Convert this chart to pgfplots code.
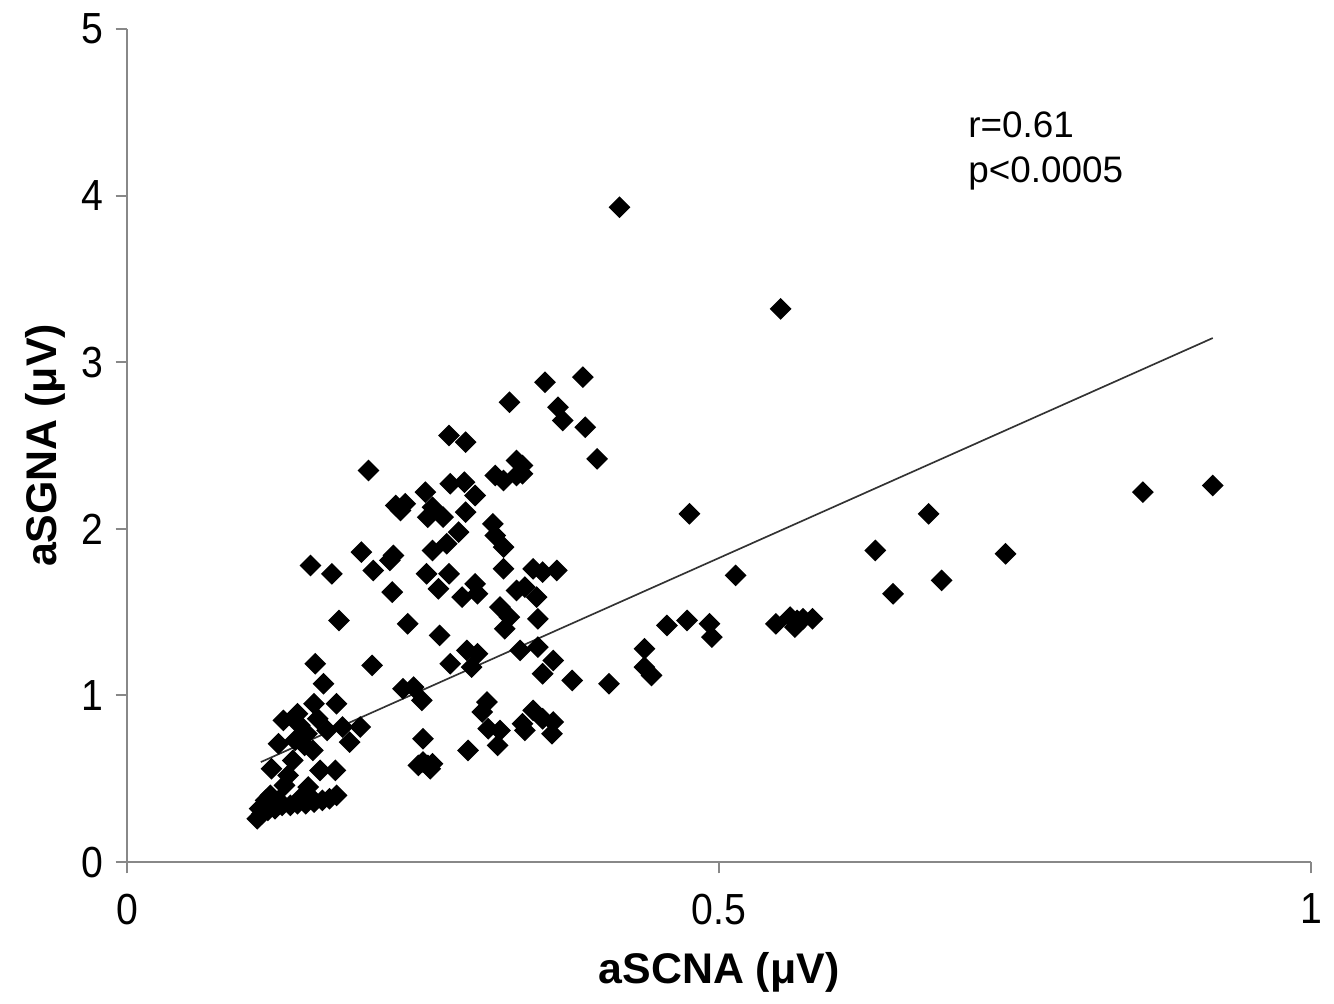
\documentclass[border=0pt]{standalone}
\usepackage{fontspec}
\setmainfont{Liberation Sans}
\newfontfamily\ticknarrow[FakeStretch=0.9]{Liberation Sans}
\usepackage{pgfplots}
\pgfplotsset{compat=1.18}
\usetikzlibrary{calc}
\definecolor{axisgray}{HTML}{888888}

\begin{document}
\begin{tikzpicture}
\begin{axis}[
  name=ax,
  scale only axis,
  width=12.425cm, height=8.742cm,
  xmin=0, xmax=1, ymin=0, ymax=5,
  axis x line*=bottom, axis y line*=left,
  axis line style={axisgray, line width=0.6pt},
  tick style={axisgray, line width=0.6pt},
  tick align=outside,
  major tick length=0.12cm,
  xtick={0,0.5,1}, xticklabels={0,0.5,1},
  ytick={0,1,2,3,4,5},
  /pgf/number format/assume math mode=true,
  tick label style={font=\ticknarrow\fontsize{13}{15}\selectfont},
  xticklabel style={yshift=-0.09cm},
  xlabel={aSCNA (μV)}, ylabel={aSGNA (μV)},
  label style={font=\fontsize{12.8}{15}\selectfont\bfseries},
  xlabel style={at={(axis description cs:0.5,-0.132)}, anchor=center},
  ylabel style={at={(axis description cs:-0.0693,0.5)}, anchor=center},
  clip=false,
]
% measurements
\addplot[only marks, mark=square*, mark size=2.1pt, mark options={rotate=45, fill=black, draw=black}] coordinates {
(0.416,3.93) (0.552,3.32) (0.917,2.26) (0.858,2.22) (0.475,2.09) (0.677,2.09)
(0.632,1.87) (0.742,1.85) (0.514,1.72) (0.688,1.69) (0.647,1.61)
(0.548,1.43) (0.560,1.47) (0.566,1.45) (0.571,1.46) (0.579,1.46) (0.564,1.41)
(0.492,1.43) (0.473,1.45) (0.456,1.42) (0.494,1.35) (0.437,1.28) (0.437,1.17)
(0.443,1.12) (0.407,1.07) (0.376,1.09)
(0.385,2.91) (0.353,2.88) (0.323,2.76) (0.364,2.73) (0.368,2.65) (0.387,2.61)
(0.397,2.42) (0.272,2.56) (0.286,2.52) (0.329,2.41) (0.334,2.38) (0.334,2.33)
(0.329,2.32) (0.311,2.32) (0.318,2.29) (0.204,2.35) (0.252,2.22) (0.273,2.27)
(0.285,2.28) (0.294,2.20) (0.235,2.15) (0.231,2.11) (0.227,2.14) (0.258,2.13)
(0.254,2.07) (0.267,2.07) (0.286,2.10) (0.309,2.03) (0.311,1.96) (0.318,1.89)
(0.280,1.98) (0.270,1.91) (0.258,1.87) (0.198,1.86) (0.225,1.84) (0.222,1.81)
(0.208,1.75) (0.155,1.78) (0.173,1.73) (0.253,1.73) (0.272,1.73) (0.263,1.64)
(0.224,1.62) (0.283,1.59) (0.294,1.67) (0.296,1.61) (0.315,1.53) (0.323,1.47)
(0.319,1.40) (0.329,1.63) (0.336,1.65) (0.346,1.59) (0.318,1.76) (0.343,1.76)
(0.351,1.74) (0.363,1.75) (0.347,1.46) (0.237,1.43) (0.179,1.45) (0.264,1.36)
(0.287,1.27) (0.296,1.25) (0.291,1.17) (0.273,1.19) (0.332,1.27) (0.347,1.29)
(0.360,1.21) (0.351,1.13) (0.207,1.18) (0.159,1.19) (0.166,1.07) (0.233,1.04)
(0.242,1.05) (0.249,0.97) (0.304,0.96) (0.300,0.90) (0.305,0.80) (0.315,0.79)
(0.313,0.70) (0.334,0.83) (0.343,0.91) (0.351,0.86) (0.360,0.84) (0.359,0.77)
(0.336,0.79) (0.250,0.74) (0.288,0.67) (0.250,0.60) (0.254,0.58) (0.258,0.59)
(0.256,0.56) (0.246,0.58)
(0.144,0.89) (0.132,0.85) (0.158,0.95) (0.177,0.95) (0.152,0.77) (0.169,0.79)
(0.182,0.81) (0.197,0.81) (0.188,0.72) (0.128,0.71) (0.157,0.67) (0.140,0.61)
(0.122,0.56) (0.163,0.55) (0.176,0.55) (0.136,0.52) (0.133,0.46) (0.153,0.45)
(0.146,0.82) (0.142,0.73) (0.161,0.86) (0.150,0.70)
(0.110,0.26) (0.114,0.29) (0.119,0.31) (0.125,0.32) (0.131,0.34) (0.138,0.34)
(0.144,0.35) (0.151,0.35) (0.158,0.36) (0.165,0.37) (0.171,0.38) (0.177,0.40)
(0.117,0.37) (0.121,0.40) (0.128,0.37) (0.112,0.32) (0.155,0.39) (0.146,0.38)
};
% linear fit
\addplot[black!80, line width=0.5pt, no marks] coordinates {(0.113,0.60) (0.917,3.145)};
\node[anchor=west, align=left, font=\fontsize{11}{13.4}\selectfont, inner sep=0pt]
  at (axis cs:0.710,4.27) {r=0.61\\p<0.0005};
\end{axis}
\path ($(ax.south west)+(-1.333cm,-1.469cm)$) rectangle ($(ax.north east)+(0.241cm,0.304cm)$);
\end{tikzpicture}
\end{document}
